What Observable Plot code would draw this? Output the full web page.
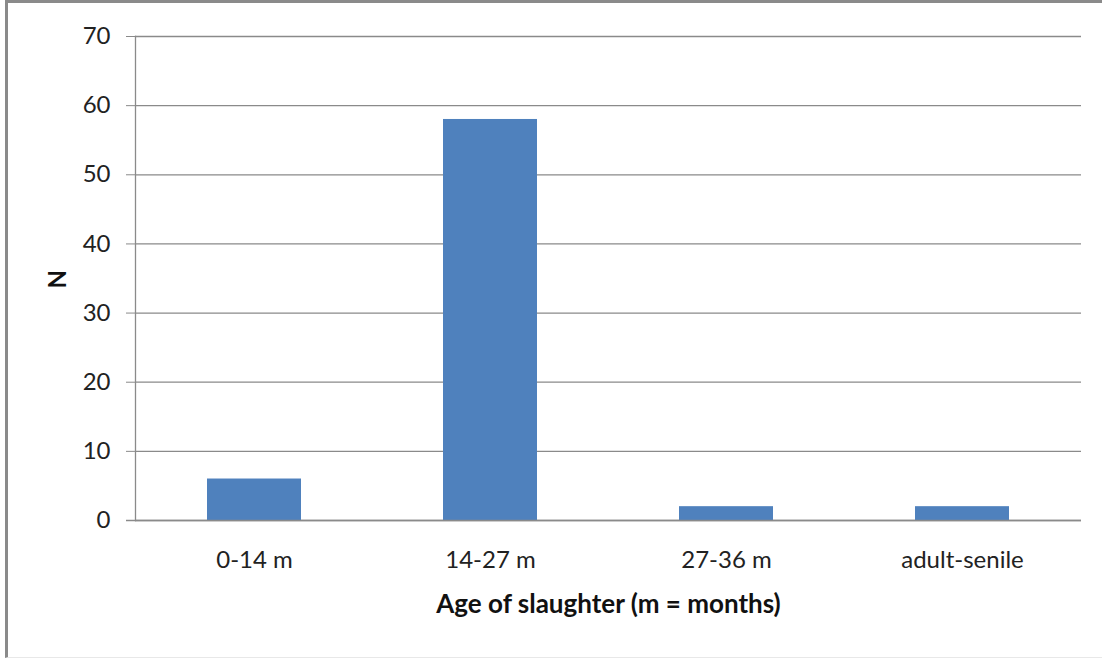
<!DOCTYPE html>
<html>
<head>
<meta charset="utf-8">
<script src="https://cdn.jsdelivr.net/npm/d3@7"></script>
<script src="https://cdn.jsdelivr.net/npm/@observablehq/plot@0.6"></script>
<style>
  html, body { margin: 0; padding: 0; background: #fff; }
  #wrap { position: relative; width: 1102px; height: 658px; overflow: hidden; }
  #border { position: absolute; left: 5px; top: 0px; width: 1110px; height: 654px;
            border-left: 3px solid #8a8a8a; border-top: 3px solid #8a8a8a; border-bottom: 1px solid #e8e8e8; }
  #chart { position: absolute; left: 0; top: 0; }
</style>
</head>
<body>
<div id="wrap"><div id="border"></div><div id="chart"></div></div>
<script>
const categories = ["0-14 m", "14-27 m", "27-36 m", "adult-senile"];
const values = [6, 58, 2, 2];
const yTicks = [0, 10, 20, 30, 40, 50, 60, 70];
const xTitle = "Age of slaughter (m = months)";
const yTitle = "N";

const data = categories.map((c, i) => ({category: c, value: values[i]}));

const chart = Plot.plot({
  width: 1102,
  height: 658,
  marginLeft: 135,
  marginRight: 21,
  marginTop: 36,
  marginBottom: 138,
  style: {fontFamily: "Lato, sans-serif", fontSize: "24px", color: "#222", background: "transparent"},
  x: {domain: categories, paddingInner: 0.6, paddingOuter: 0.3, label: null},
  y: {domain: [0, 70], ticks: yTicks, label: null},
  marks: [
    Plot.gridY(yTicks, {stroke: "#8a8a8a", strokeOpacity: 1, strokeWidth: 1.3}),
    Plot.barY(data, {x: "category", y: "value", fill: "#4F81BD"}),
    Plot.axisY(yTicks, {tickSize: 9, tickPadding: 16, stroke: "#8a8a8a", fontSize: 24, fill: "#222"}),
    Plot.axisX({tickSize: 0, tickPadding: 30, fontSize: 24, fill: "#222"}),
    Plot.frame({anchor: "left", stroke: "#8a8a8a", strokeWidth: 1.3}),
    Plot.ruleY([0], {stroke: "#8a8a8a", strokeWidth: 1.3, insetLeft: -9}),
    Plot.text([xTitle], {frameAnchor: "bottom", dy: 92, fontWeight: "bold", fontSize: 26, fill: "#111"}),
    Plot.text([yTitle], {frameAnchor: "left", dx: -77, dy: 10, rotate: -90, fontWeight: "bold", fontSize: 24, fill: "#111"})
  ]
});
document.getElementById("chart").appendChild(chart);
</script>
</body>
</html>
